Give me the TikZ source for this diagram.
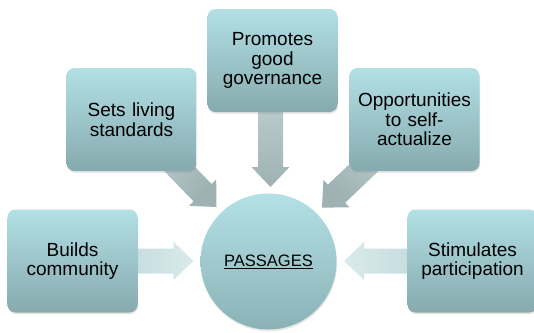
\documentclass[tikz,border=0pt]{standalone}
\usepackage{fontspec}
\setmainfont{Liberation Sans}
\usetikzlibrary{calc,shadows,backgrounds}
\definecolor{boxtop}{RGB}{178,224,229}
\definecolor{boxbot}{RGB}{134,170,174}
\definecolor{hubtop}{RGB}{180,225,230}
\definecolor{hubbot}{RGB}{138,178,182}
\definecolor{arrlight}{RGB}{200,218,220}
\definecolor{arrdark}{RGB}{158,177,179}
\definecolor{harrbase}{RGB}{178,208,211}
\definecolor{harrtip}{RGB}{218,234,235}
\tikzset{
  box/.style={rectangle, rounded corners=8bp, minimum width=130bp, minimum height=103bp,
    text width=126bp, align=center, inner sep=0pt, top color=boxtop, bottom color=boxbot,
    font=\fontsize{19bp}{19.5bp}\selectfont,
    drop shadow={opacity=0.18, shadow xshift=0.6bp, shadow yshift=-1.8bp}},
  hub/.style={circle, minimum size=136bp, inner sep=0pt, top color=hubtop, bottom color=hubbot,
    font=\fontsize{16.5bp}{18bp}\selectfont,
    drop shadow={opacity=0.18, shadow xshift=0.6bp, shadow yshift=-1.8bp}},
  downflow/.style={top color=arrlight, bottom color=arrdark},
  drflow/.style={top color=arrlight, bottom color=arrdark, shading angle=45},
  dlflow/.style={top color=arrlight, bottom color=arrdark, shading angle=-45},
  rflow/.style={left color=harrbase, right color=harrtip},
  lflow/.style={left color=harrtip, right color=harrbase},
}
\newcommand\blockarrow[3]{%
  \coordinate (aH) at ($(#3)!20bp!(#2)$);
  \path[#1] ($(#2)!12.5bp!90:(#3)$) -- ($(aH)!12.5bp!-90:(#2)$) -- ($(aH)!19bp!-90:(#2)$)
    -- (#3) -- ($(aH)!19bp!90:(#2)$) -- ($(aH)!12.5bp!90:(#2)$) -- ($(#2)!12.5bp!-90:(#3)$) -- cycle;}
\begin{document}
\begin{tikzpicture}[x=1bp,y=-1bp]
\useasboundingbox (0,0) rectangle (534,332);
\node[box] (top) at (272.5,60.5) {Promotes\\good\\governance};
\node[box] (sets) at (131.5,119.5) {Sets living\\standards};
\node[box] (opp) at (414.5,119.5) {Opportunities\\to self-\\actualize};
\node[box] (builds) at (72.5,261) {Builds\\community};
\node[box] (stim) at (472.5,261) {Stimulates\\participation};
\node[hub] (hub) at (268.5,261.5) {\underline{PASSAGES}};
\coordinate (t1) at (270.5,187);
\coordinate (t2) at (216.5,207);
\coordinate (t3) at (322,207.5);
\coordinate (t4) at (193.5,261);
\coordinate (t5) at (344,261);
\begin{scope}[on background layer]
  \blockarrow{downflow}{t1 |- top.center}{t1}
  \blockarrow{drflow}{sets.center}{t2}
  \blockarrow{dlflow}{opp.center}{t3}
  \blockarrow{rflow}{builds.center}{t4}
  \blockarrow{lflow}{stim.center}{t5}
\end{scope}
\end{tikzpicture}
\end{document}
